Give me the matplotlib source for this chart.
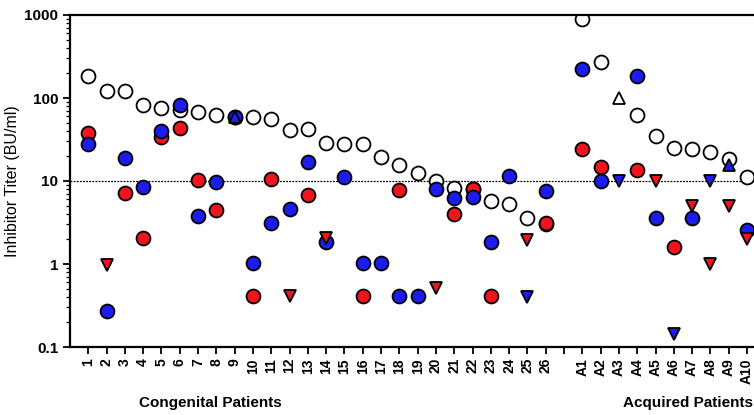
import numpy as np
import matplotlib.pyplot as plt

plt.rcParams['font.family'] = ['Liberation Sans', 'DejaVu Sans']

# x categories (slot 27 is an empty gap between the two groups)
labels = [str(i) for i in range(1, 27)] + [''] + ['A%d' % i for i in range(1, 11)]

# open circles
open_circle = [185, 123, 123, 82, 76, 72, 68, 62, 59, 59, 56, 41.5, 42, 29, 28, 28,
               19.5, 15.8, 12.5, 10, 8.3, 8.0, 5.8, 5.3, 3.6, 3.0,
               None,
               895, 274, None, 62, 34.5, 25, 24, 22.4, 18.5, 11.1]
# red filled circles
red_circle = [37.9, None, 7.1, 2.04, 34, 44, 10.4, 4.46, None, 0.41, 10.7, None, 6.75,
              None, None, 0.41, None, 7.7, None, None, 3.96, 8.1, 0.41, None, None, 3.1,
              None,
              24.3, 14.8, None, 13.7, None, 1.62, None, None, None, None]
# blue filled circles
blue_circle = [28.2, 0.27, 19, 8.4, 39.6, 82.8, 3.8, 9.7, 59, 1.02, 3.09, 4.55, 16.8,
               1.84, 11.1, 1.02, 1.02, 0.41, 0.41, 7.9, 6.3, 6.45, 1.84, 11.4, None, 7.5,
               None,
               222, 10, None, 185, 3.55, None, 3.6, None, None, 2.6]
# red down triangles
red_tri = [None, 0.98, None, None, None, None, None, None, None, None, None, 0.41, None,
           2.03, None, None, None, None, None, 0.51, None, None, None, None, 1.93, None,
           None,
           None, None, None, None, 10, None, 4.98, 1.0, 5.0, 2.0]
# blue down triangles
blue_tri = [None] * 24 + [0.40, None, None,
            None, None, 10, None, None, 0.144, None, 10, None, None]
# blue up triangles
blue_up = [None] * 8 + [59] + [None] * 27 + [None]
blue_up[35] = 15.4
# open up triangle
open_up = [None] * 37
open_up[29] = 101

x = np.arange(1, len(labels) + 1)


def arr(v):
    return np.array([np.nan if a is None else a for a in v], dtype=float)


red = '#f0141c'
blue = '#1c1ced'

fig = plt.figure(figsize=(7.54, 4.15), dpi=100)
ax = fig.add_axes([70 / 754, 68 / 415, 684 / 754, 332 / 415])

ax.axhline(10, color='black', ls=(0, (1.5, 1)), lw=0.9, zorder=1)

ms = 10
kw = dict(ls='none', markeredgecolor='black', markeredgewidth=1.3)
ax.plot(x, arr(open_circle), 'o', markerfacecolor='white', markersize=ms, zorder=2, **kw)
ax.plot(x, arr(red_circle), 'o', markerfacecolor=red, markersize=ms, zorder=3, **kw)
ax.plot(x, arr(blue_circle), 'o', markerfacecolor=blue, markersize=ms, zorder=3, **kw)
ax.plot(x, arr(red_tri), 'v', markerfacecolor=red, markersize=ms - 1, zorder=4, **kw)
ax.plot(x, arr(blue_tri), 'v', markerfacecolor=blue, markersize=ms - 1, zorder=4, **kw)
ax.plot(x, arr(blue_up), '^', markerfacecolor=blue, markersize=ms - 2, zorder=4, **kw)
ax.plot(x, arr(open_up), '^', markerfacecolor='white', markersize=ms - 1, zorder=4, **kw)

ax.set_yscale('log')
ax.set_ylim(0.1, 1000)
ax.set_xlim(0, 37.38)
ax.set_yticks([0.1, 1, 10, 100, 1000])
ax.set_yticklabels(['0.1', '1', '10', '100', '1000'], fontweight='bold', fontsize=11)
ax.set_xticks(x)
ax.set_xticklabels(labels, rotation=90, fontweight='bold', fontsize=10)
ax.tick_params(axis='both', which='major', direction='out', length=5, width=1.3)
ax.tick_params(axis='y', which='minor', direction='out', length=3, width=0.9)
ax.tick_params(axis='x', which='major', pad=3)

for s in ['left', 'bottom', 'top']:
    ax.spines[s].set_linewidth(1.6)
ax.spines['right'].set_visible(False)

ax.set_ylabel('Inhibitor Titer (BU/ml)', fontsize=11.5)
ax.yaxis.set_label_coords(-50 / 684, 0.5)

fig.text(210 / 754, 1 - 403 / 415, 'Congenital Patients', ha='center', va='center',
         fontsize=11, fontweight='bold')
fig.text(688 / 754, 1 - 403 / 415, 'Acquired Patients', ha='center', va='center',
         fontsize=11, fontweight='bold')

fig.savefig('out.png', dpi=100)
